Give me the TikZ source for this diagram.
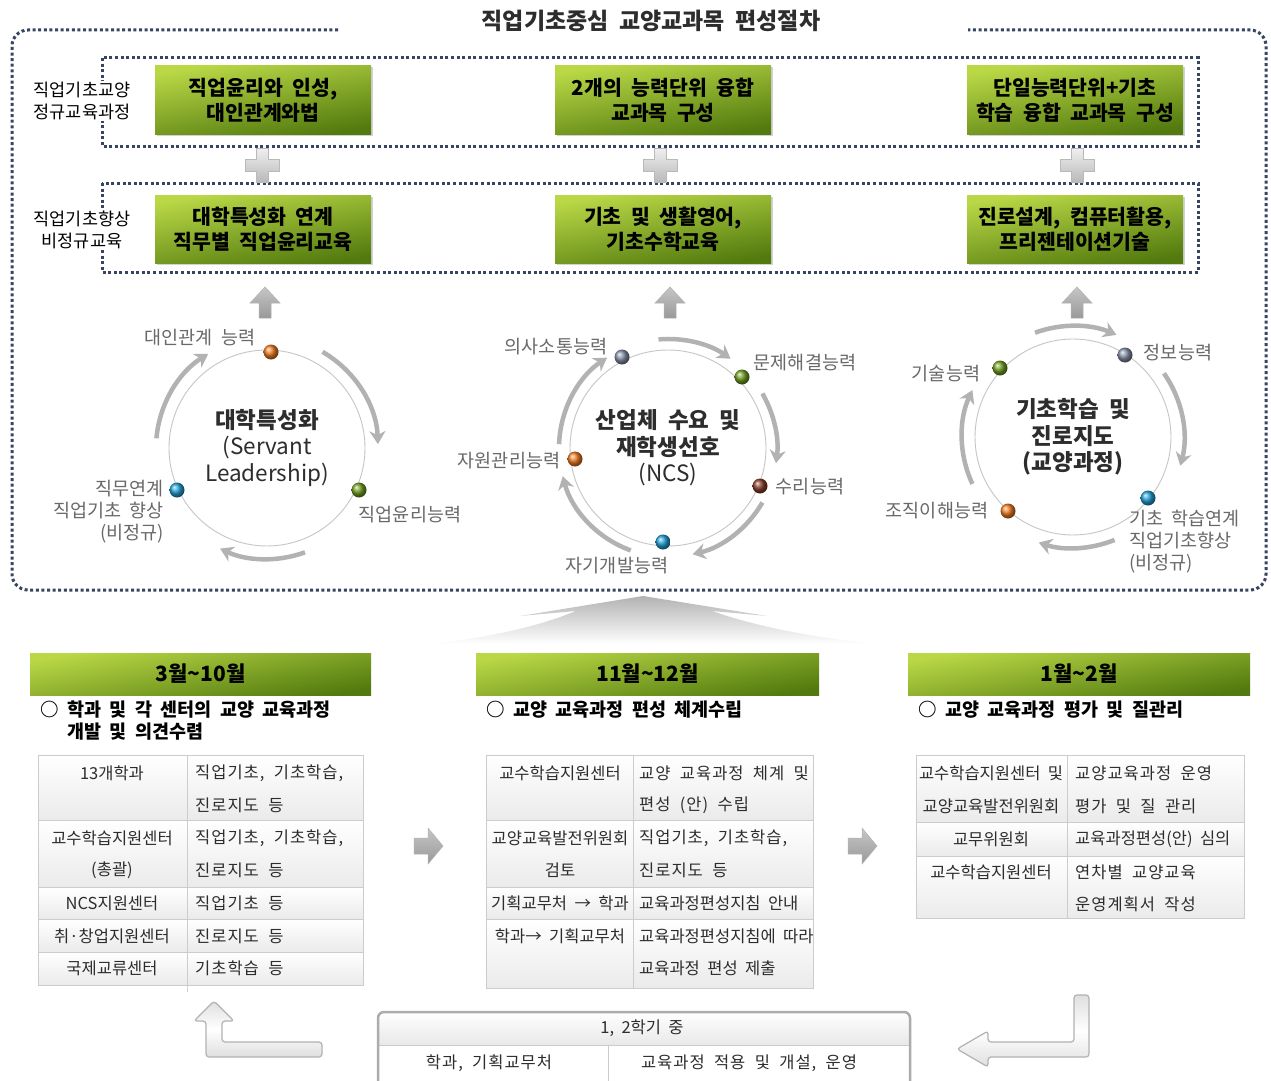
\documentclass[tikz,border=0pt]{standalone}
\usepackage{fontspec}
\setmainfont{Noto Sans CJK KR}[WordSpace=2]
\usetikzlibrary{arrows.meta,shadows}
\definecolor{dotc}{RGB}{55,68,98}
\definecolor{gA}{RGB}{186,216,70}
\definecolor{gB}{RGB}{82,122,14}
\definecolor{lbl}{RGB}{105,105,105}
\definecolor{txt}{RGB}{45,45,45}
\definecolor{bOr}{RGB}{240,125,35}
\definecolor{bBl}{RGB}{35,160,215}
\definecolor{bGr}{RGB}{115,160,35}
\definecolor{bGy}{RGB}{135,145,170}
\definecolor{bBr}{RGB}{140,65,45}
\tikzset{
  dotline/.style={draw=dotc, line width=3pt, dash pattern=on 3pt off 2.6pt},
  gbox/.style={rectangle, minimum width=216pt, minimum height=68pt, inner sep=0pt, top color=gA, bottom color=gB, shading angle=10, align=center, text=black, font=\fontsize{20.5}{25}\selectfont\bfseries, drop shadow={opacity=0.35, shadow xshift=1.5pt, shadow yshift=-1.5pt}},
  hbar/.style={rectangle, minimum width=342pt, minimum height=42pt, inner sep=0pt, top color=gA, bottom color=gB, shading angle=10, text=black, font=\fontsize{21}{24}\selectfont\bfseries},
  rowlbl/.style={fill=white, inner sep=1pt, align=center, font=\fontsize{17.5}{22}\selectfont, text=black},
  ring/.style={circle, draw=gray!45, line width=0.9pt, minimum size=196pt, inner sep=0pt, align=center, text=txt, font=\fontsize{22.5}{26.5}\selectfont},
  ball/.style={circle, minimum size=15pt, inner sep=0pt, shading=ball, ball color=#1},
  clbl/.style={font=\fontsize{18.5}{22}\selectfont, text=lbl, inner sep=1pt},
  arcarrow/.style={draw=gray!60, line width=4.5pt, -{Stealth[length=13pt,width=16pt]}},
  cellbg/.style={top color=white, bottom color=gray!16, draw=gray!40, line width=0.6pt},
  ttl/.style={font=\fontsize{16.5}{20}\selectfont, text=txt, inner sep=0pt},
  ttr/.style={font=\fontsize{16.5}{20}\selectfont\addfontfeatures{LetterSpace=6}, text=txt, inner sep=0pt, anchor=west},
  sub/.style={font=\fontsize{18.5}{22}\selectfont\bfseries, text=black, align=left, inner sep=0pt},
  blockarrow/.style={top color=gray!45, bottom color=gray!80, draw=gray!60, line width=0.5pt},
  retarrow/.style={top color=gray!25, bottom color=gray!25, middle color=white, draw=gray!60, line width=1.2pt},
}
\begin{document}
\begin{tikzpicture}[x=1pt,y=-1pt]
\useasboundingbox (0,0) rectangle (1271,1081);
\fill[white] (0,0) rectangle (1271,1081);

% title and frame
\node[font=\fontsize{23}{26}\selectfont\bfseries, text=txt] (title) at (651,21) {직업기초중심 교양교과목 편성절차};
\draw[dotline, rounded corners=16pt] (338,30) -- (12,30) -- (12,590) -- (1266,590) -- (1266,30) -- (968,30);

% inner boxes
\draw[dotline] (102,58) rectangle (1198,146);
\draw[dotline] (102,183) rectangle (1198,272);
\node[rowlbl] (r1) at (82,101) {직업기초교양\\정규교육과정};
\node[rowlbl] (r2) at (82,230) {직업기초향상\\비정규교육};

% green boxes
\node[gbox] (g11) at (263,100) {직업윤리와 인성,\\대인관계와법};
\node[gbox] (g12) at (663,100) {2개의 능력단위 융합\\교과목 구성};
\node[gbox] (g13) at (1075,100) {단일능력단위+기초\\학습 융합 교과목 구성};
\node[gbox] (g21) at (263,229) {대학특성화 연계\\직무별 직업윤리교육};
\node[gbox] (g22) at (663,229) {기초 및 생활영어,\\기초수학교육};
\node[gbox] (g23) at (1075,229) {진로설계, 컴퓨터활용,\\프리젠테이션기술};

% plus signs
\foreach \px in {262,660,1077} {
  \path[top color=gray!12, bottom color=gray!55, draw=gray!55, line width=0.6pt]
    (\px-6,148) -- (\px+6,148) -- (\px+6,159) -- (\px+17,159) -- (\px+17,171) -- (\px+6,171)
    -- (\px+6,182) -- (\px-6,182) -- (\px-6,171) -- (\px-17,171) -- (\px-17,159) -- (\px-6,159) -- cycle;
}
% up arrows
\foreach \ax in {265,670,1077} {
  \path[blockarrow] (\ax,287) -- (\ax+15,303) -- (\ax+6,303) -- (\ax+6,318) -- (\ax-6,318) -- (\ax-6,303) -- (\ax-15,303) -- cycle;
}

% circles
\node[ring] (c1) at (267,448) {\textbf{대학특성화}\\(Servant\\Leadership)};
\node[ring] (c2) at (668,448) {\textbf{산업체 수요 및}\\\textbf{재학생선호}\\(NCS)};
\node[ring] (c3) at (1073,437) {\textbf{기초학습 및}\\\textbf{진로지도}\\\textbf{(교양과정)}};

\foreach \a/\b in {185/238,300/358,70/115}
  \draw[arcarrow] (c1.center) ++(\a:111) arc[start angle=\a, end angle=\b, radius=111];
\foreach \a/\b in {265/305,330/368,30/77,110/165,182/236}
  \draw[arcarrow] (c2.center) ++(\a:109) arc[start angle=\a, end angle=\b, radius=109];
\foreach \a/\b in {250/293,325/375,68/108,155/205}
  \draw[arcarrow] (c3.center) ++(\a:111) arc[start angle=\a, end angle=\b, radius=111];

% dots
\node[ball=bOr] (d11) at (271,352) {};
\node[ball=bBl] (d12) at (177,490) {};
\node[ball=bGr] (d13) at (359,490) {};
\node[ball=bGy] (d21) at (622,357) {};
\node[ball=bGr] (d22) at (742,377) {};
\node[ball=bBr] (d23) at (760,486) {};
\node[ball=bBl] (d24) at (663,542) {};
\node[ball=bOr] (d25) at (575,459) {};
\node[ball=bGr] (d31) at (1000,368) {};
\node[ball=bGy] (d32) at (1125,355) {};
\node[ball=bBl] (d33) at (1148,498) {};
\node[ball=bOr] (d34) at (1008,511) {};

% circle labels
\node[clbl] (l11) at (200,338) {대인관계 능력};
\node[clbl, align=right, anchor=east] (l12) at (165,512) {직무연계\\직업기초 향상\\(비정규)};
\node[clbl] (l13) at (410,515) {직업윤리능력};
\node[clbl] (l21) at (556,347) {의사소통능력};
\node[clbl] (l22) at (805,363) {문제해결능력};
\node[clbl] (l23) at (810,487) {수리능력};
\node[clbl] (l24) at (617,566) {자기개발능력};
\node[clbl] (l25) at (509,461) {자원관리능력};
\node[clbl] (l31) at (946,374) {기술능력};
\node[clbl] (l32) at (1178,353) {정보능력};
\node[clbl, align=left, anchor=west] (l33) at (1128,542) {기초 학습연계\\직업기초향상\\(비정규)};
\node[clbl] (l34) at (937,511) {조직이해능력};

% fan arrow
\path[top color=gray!60, bottom color=white]
  (643,596) -- (520,616) .. controls (548,614) .. (576,611)
  .. controls (530,630) and (470,640) .. (430,644) -- (875,644)
  .. controls (820,638) and (760,628) .. (712,611)
  .. controls (740,614) .. (767,616) -- cycle;

% header bars
\node[hbar, minimum width=341pt] (h1) at (200.5,674) {3월\textasciitilde10월};
\node[hbar, minimum width=343pt] (h2) at (647.5,674) {11월\textasciitilde12월};
\node[hbar] (h3) at (1079,674) {1월\textasciitilde2월};

\node[sub, anchor=north west] (s1) at (40,701) {○ 학과 및 각 센터의 교양 교육과정\\\phantom{○ }개발 및 의견수렴};
\node[sub, anchor=north west] (s2) at (486,701) {○ 교양 교육과정 편성 체계수립};
\node[sub, anchor=north west] (s3) at (918,701) {○ 교양 교육과정 평가 및 질관리};

% table 1
\foreach \ya/\yb in {755/820,820/887,887/919,919/952,952/985} {
  \path[cellbg] (38,\ya) rectangle (187,\yb);
  \path[cellbg] (187,\ya) rectangle (363,\yb);
}
\draw[gray!35, line width=0.6pt] (187,985) -- (187,992);
\node[ttl] (t1a) at (112,773) {13개학과};
\node[ttr] (t1b) at (195,773) {직업기초, 기초학습,};
\node[ttr] (t1c) at (195,805) {진로지도 등};
\node[ttl] (t1d) at (112,838) {교수학습지원센터};
\node[ttl] (t1e) at (112,870) {(총괄)};
\node[ttr] (t1f) at (195,838) {직업기초, 기초학습,};
\node[ttr] (t1g) at (195,870) {진로지도 등};
\node[ttl] (t1h) at (112,903) {NCS지원센터};
\node[ttr] (t1i) at (195,903) {직업기초 등};
\node[ttl] (t1j) at (112,936) {취·창업지원센터};
\node[ttr] (t1k) at (195,936) {진로지도 등};
\node[ttl] (t1l) at (112,968) {국제교류센터};
\node[ttr] (t1m) at (195,968) {기초학습 등};

% table 2
\foreach \ya/\yb in {755/820,820/887,887/919,919/988} {
  \path[cellbg] (486,\ya) rectangle (633,\yb);
  \path[cellbg] (633,\ya) rectangle (813,\yb);
}
\node[ttl] (t2a) at (560,773) {교수학습지원센터};
\node[ttr] (t2b) at (639,773) {교양 교육과정 체계 및};
\node[ttr] (t2c) at (639,805) {편성 (안) 수립};
\node[ttl] (t2d) at (560,838) {교양교육발전위원회};
\node[ttl] (t2e) at (560,870) {검토};
\node[ttr] (t2f) at (639,838) {직업기초, 기초학습,};
\node[ttr] (t2g) at (639,870) {진로지도 등};
\node[ttl] (t2h) at (560,903) {기획교무처 → 학과};
\node[ttl, anchor=west] (t2i) at (639,903) {교육과정편성지침 안내};
\node[ttl] (t2j) at (560,936) {학과→ 기획교무처};
\node[ttl, anchor=west] (t2k) at (639,936) {교육과정편성지침에 따라};
\node[ttl, anchor=west] (t2l) at (639,968) {교육과정 편성 제출};

% table 3
\foreach \ya/\yb in {755/822,822/856,856/918} {
  \path[cellbg] (916,\ya) rectangle (1067,\yb);
  \path[cellbg] (1067,\ya) rectangle (1244,\yb);
}
\node[ttl] (t3a) at (991,773) {교수학습지원센터 및};
\node[ttl] (t3b) at (991,806) {교양교육발전위원회};
\node[ttr] (t3c) at (1075,773) {교양교육과정 운영};
\node[ttr] (t3d) at (1075,806) {평가 및 질 관리};
\node[ttl] (t3e) at (991,839) {교무위원회};
\node[ttl, anchor=west] (t3f) at (1075,839) {교육과정편성(안) 심의};
\node[ttl] (t3g) at (991,872) {교수학습지원센터};
\node[ttr] (t3h) at (1075,872) {연차별 교양교육};
\node[ttr] (t3i) at (1075,904) {운영계획서 작성};

% block arrows between tables
\foreach \bx in {428,862}
  \path[blockarrow] (\bx-14,838) -- (\bx,838) -- (\bx,828) -- (\bx+15,846) -- (\bx,864) -- (\bx,854) -- (\bx-14,854) -- cycle;

% bottom table
\begin{scope}
  \clip[rounded corners=6pt] (378,1012) rectangle (910,1100);
  \shade[top color=white, bottom color=gray!18] (378,1012) rectangle (910,1045);
\end{scope}
\draw[gray!40, line width=0.8pt] (378,1045) -- (910,1045);
\draw[gray!40, line width=0.8pt] (608,1045) -- (608,1100);
\draw[gray!65, line width=2.5pt, rounded corners=6pt] (378,1012) rectangle (910,1100);
\node[ttl] (b1) at (642,1028) {1, 2학기 중};
\node[ttr, anchor=center] (b2) at (489,1063) {학과, 기획교무처};
\node[ttr, anchor=center] (b3) at (749,1063) {교육과정 적용 및 개설, 운영};

% return arrows
\path[retarrow, rounded corners=3pt] (322,1042) -- (222,1042) -- (222,1021) -- (234,1021) -- (214,1001) -- (194,1021) -- (206,1021) -- (206,1057) -- (322,1057) -- cycle;
\path[retarrow, rounded corners=3pt] (1074,995) -- (1089,995) -- (1089,1057) -- (988,1057) -- (988,1067) -- (957,1049) -- (988,1031) -- (988,1042) -- (1074,1042) -- cycle;
\end{tikzpicture}
\end{document}
